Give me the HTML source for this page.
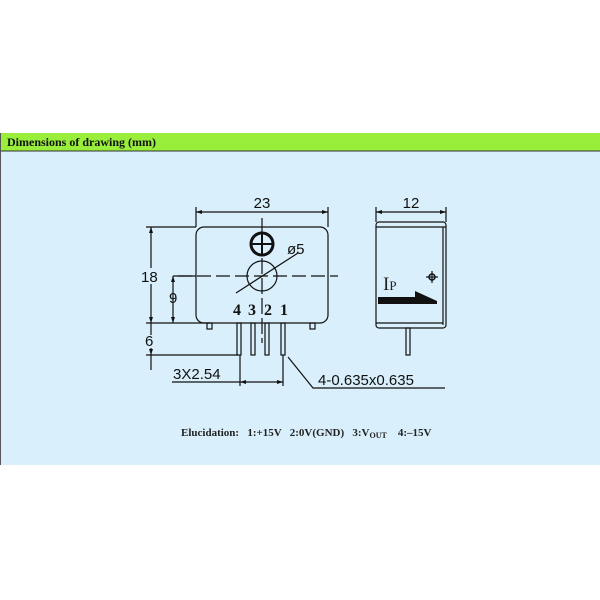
<!DOCTYPE html>
<html><head><style>
html,body{margin:0;padding:0;background:#fff;}
body{width:600px;height:600px;position:relative;overflow:hidden;}
</style></head><body>
<svg width="600" height="600" viewBox="0 0 600 600" xmlns="http://www.w3.org/2000/svg" style="position:absolute;left:0;top:0">
<rect x="0" y="133" width="600" height="332" fill="#d9effb"/>
<rect x="0" y="133" width="600" height="18" fill="#99ee3c"/>
<line x1="0" y1="151" x2="600" y2="151" stroke="#333" stroke-width="1"/>
<line x1="0.5" y1="133" x2="0.5" y2="465" stroke="#555" stroke-width="1"/>
<text x="7" y="146" font-family="Liberation Serif" font-weight="bold" font-size="12" fill="#111">Dimensions of drawing (mm)</text>
<g stroke="#111" fill="none" stroke-width="1.2">
<rect x="196" y="227" width="132" height="96" rx="8"/>
<rect x="207" y="323" width="5" height="6"/>
<rect x="310" y="323" width="5" height="6"/>
<rect x="237" y="323" width="4" height="32"/>
<rect x="251" y="323" width="4" height="32"/>
<rect x="265" y="323" width="4" height="32"/>
<rect x="281" y="323" width="4" height="32"/>
<circle cx="262" cy="244" r="11" stroke-width="3"/>
<line x1="251" y1="244" x2="273" y2="244" stroke-width="2"/>
<line x1="262" y1="233" x2="262" y2="255" stroke-width="2"/>
<circle cx="262" cy="276" r="15"/>
<line x1="236" y1="293" x2="298" y2="253"/>
<line x1="178" y1="276" x2="338" y2="276" stroke-dasharray="14 5"/>
<line x1="262" y1="218" x2="262" y2="343" stroke-dasharray="16 4"/>
<line x1="196" y1="207" x2="196" y2="227"/><line x1="328" y1="207" x2="328" y2="227"/>
<line x1="196" y1="212" x2="328" y2="212"/>
<line x1="146" y1="227" x2="196" y2="227"/>
<line x1="146" y1="323" x2="210" y2="323"/>
<line x1="151" y1="227" x2="151" y2="268"/>
<line x1="151" y1="284" x2="151" y2="335"/>
<line x1="151" y1="348" x2="151" y2="370"/>
<line x1="146" y1="355" x2="238" y2="355"/>
<line x1="173" y1="276" x2="196" y2="276"/>
<line x1="173" y1="276" x2="173" y2="323"/>
<line x1="240" y1="355" x2="240" y2="386"/><line x1="283" y1="355" x2="283" y2="386"/>
<line x1="172" y1="382" x2="283" y2="382"/>
<polyline points="288,357 313,388 445,388"/>
<rect x="376" y="222" width="70" height="106" rx="3"/>
<line x1="376" y1="227" x2="446" y2="227"/>
<line x1="376" y1="323" x2="443" y2="323"/>
<line x1="443" y1="227" x2="443" y2="325"/>
<rect x="406" y="328" width="4" height="27"/>
<circle cx="432" cy="277" r="3" stroke-width="1.5"/>
<line x1="426" y1="277" x2="438" y2="277"/><line x1="432" y1="271" x2="432" y2="283"/>
<line x1="376" y1="207" x2="376" y2="222"/><line x1="446" y1="207" x2="446" y2="222"/>
<line x1="376" y1="212" x2="446" y2="212"/>
</g>
<polygon points="378,297 415,297 415,291 437,301 437,304 378,304" fill="#111"/>
<g fill="#111">
<polygon points="196,212 202,210 202,214"/><polygon points="328,212 322,210 322,214"/>
<polygon points="376,212 382,210 382,214"/><polygon points="446,212 440,210 440,214"/>
<polygon points="151,227 149,233 153,233"/><polygon points="151,323 149,317 153,317"/>
<polygon points="173,276 171,282 175,282"/><polygon points="173,323 171,317 175,317"/>
<polygon points="151,355 149,349 153,349"/>
<polygon points="240,382 246,380 246,384"/><polygon points="283,382 277,380 277,384"/>
</g>
<g font-family="Liberation Sans" font-size="15" fill="#111">
<text x="262" y="208" text-anchor="middle">23</text>
<text x="411" y="208" text-anchor="middle">12</text>
<text x="287" y="254">ø5</text>
<text x="141" y="282">18</text>
<text x="169" y="303">9</text>
<text x="145" y="346">6</text>
<text x="173" y="379">3X2.54</text>
<text x="318" y="385">4-0.635x0.635</text>
</g>
<g font-family="Liberation Serif" font-weight="bold" font-size="16" fill="#111">
<text x="233" y="315">4</text><text x="248" y="315">3</text><text x="264" y="315">2</text><text x="280" y="315">1</text>
</g>
<text x="383" y="290" font-family="Liberation Serif" font-size="19" fill="#222">I<tspan font-size="13">P</tspan></text>
<text x="181" y="436" font-family="Liberation Serif" font-weight="bold" font-size="11" fill="#222" xml:space="preserve">Elucidation:   1:+15V   2:0V(GND)   3:V<tspan font-size="8" dy="2">OUT</tspan><tspan dy="-2">    4:–15V</tspan></text>
</svg>
</body></html>
